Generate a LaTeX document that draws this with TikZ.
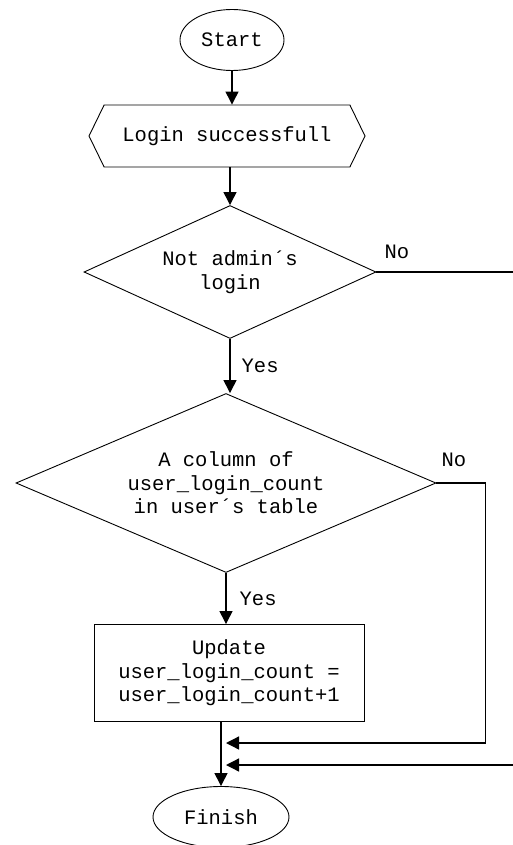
\documentclass[tikz,border=0pt]{standalone}
\usepackage{fontspec}
\newfontfamily\flowfont{Liberation Mono}
\usetikzlibrary{arrows.meta,shapes.geometric,shapes.symbols}
\tikzset{
	flow/.style={draw, line width=0.9pt, align=center, inner sep=0pt,
			font=\flowfont\fontsize{20.5}{23.5}\selectfont},
	terminal/.style={flow, ellipse},
	decision/.style={flow, diamond},
	process/.style={flow, rectangle},
	prep/.style={flow, signal, signal to=west and east, signal pointer angle=128},
	arrow/.style={line width=1.3pt, -{Triangle[length=13pt, width=13pt]}},
	answer/.style={font=\flowfont\fontsize{20.5}{23.5}\selectfont, inner sep=0pt}
}

\begin{document}
\begin{tikzpicture}[x=1pt, y=-1pt]
	\useasboundingbox (0, 0) rectangle (513, 845);
	\node[terminal, minimum width=104pt, minimum height=61pt] (start) at (232, 40) {Start};
	\node[prep, minimum width=276pt, minimum height=62pt] (login) at (227, 136) {Login successfull};
	\node[decision, aspect=2.2, minimum width=292pt, minimum height=133pt] (notadmin) at (230, 272) {Not admin´s\\login};
	\node[decision, aspect=2.35, minimum width=420pt, minimum height=179pt] (column) at (226, 483) {A column of\\user\_login\_count\\in user´s table};
	\node[process, minimum width=270pt, minimum height=97pt] (update) at (229, 673) {Update\\user\_login\_count =\\user\_login\_count+1};
	\node[terminal, minimum width=136pt, minimum height=61pt] (finish) at (221, 817) {Finish};
	\coordinate (join1) at (226, 743);
	\coordinate (join2) at (226, 765);

	\draw[arrow] (start.south) -- (start.south |- login.north);
	\draw[arrow] (notadmin.north |- login.south) -- (notadmin.north);
	\draw[arrow] (notadmin.south) -- (notadmin.south |- column.north) node[answer, midway, right=11pt] (yes1) {Yes};
	\draw[arrow] (column.south) -- (column.south |- update.north) node[answer, midway, right=13pt] (yes2) {Yes};
	\draw[arrow] (finish |- update.south) -- (finish.north);
	\draw[arrow] (column.east) -- ++(49, 0) |- (join1);
	\draw[arrow] (notadmin.east) -- ++(160, 0) |- (join2);
	\node[answer, anchor=south west] (no1) at ([shift={(8pt,13pt)}]notadmin.east) {No};
	\node[answer, anchor=south west] (no2) at ([shift={(5pt,16pt)}]column.east) {No};
\end{tikzpicture}
\end{document}
